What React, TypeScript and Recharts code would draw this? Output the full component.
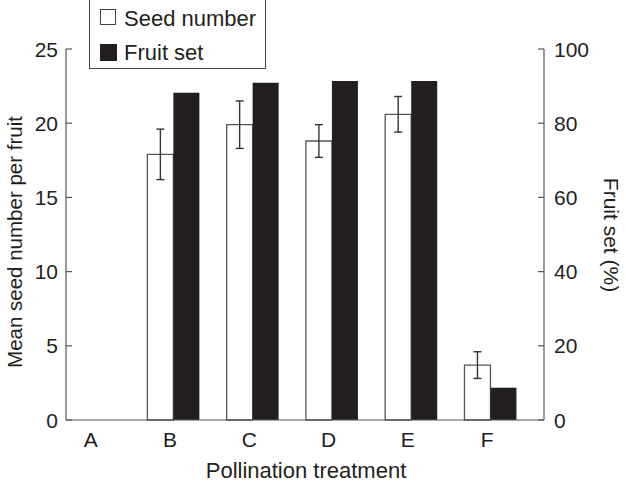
import React from 'react';
import { BarChart, Bar, XAxis, YAxis, ErrorBar } from 'recharts';

const categories = ['A', 'B', 'C', 'D', 'E', 'F'];
const seedNumber = [0, 17.9, 19.9, 18.8, 20.6, 3.7];
const seedError = [null, 1.7, 1.6, 1.1, 1.2, 0.9];
const fruitSet = [0, 88.2, 90.9, 91.4, 91.4, 8.7];
const leftTicks = [0, 5, 10, 15, 20, 25];
const rightTicks = [0, 20, 40, 60, 80, 100];

const data = categories.map((c, i) => ({
  idx: i,
  name: c,
  seed: seedNumber[i],
  seedErr: seedError[i],
  fruit: fruitSet[i],
}));

const FONT = 'Liberation Sans, Arial, Helvetica, sans-serif';
const INK = '#231f20';
const TICK_SIZE = 21;

const LeftTick = (props: any) => {
  const { x, y, payload } = props;
  return (
    <g>
      <line x1={x} y1={y} x2={x + 6} y2={y} stroke="#555" strokeWidth={1.2} />
      <text x={x - 8} y={y} dy={7.5} textAnchor="end" fontSize={TICK_SIZE} fontFamily={FONT} fill={INK}>
        {payload.value}
      </text>
    </g>
  );
};

const RightTick = (props: any) => {
  const { x, y, payload } = props;
  return (
    <g>
      <line x1={x} y1={y} x2={x - 6} y2={y} stroke="#555" strokeWidth={1.2} />
      <text x={x + 10} y={y} dy={7.5} textAnchor="start" fontSize={TICK_SIZE} fontFamily={FONT} fill={INK}>
        {payload.value}
      </text>
    </g>
  );
};

const BottomTick = (props: any) => {
  const { x, y, payload } = props;
  return (
    <text x={x - 3} y={y} dy={19} textAnchor="middle" fontSize={TICK_SIZE} fontFamily={FONT} fill={INK}>
      {categories[payload.value]}
    </text>
  );
};

const LegendBox = () => (
  <div
    style={{
      position: 'absolute',
      left: 89,
      top: -2,
      width: 177,
      height: 71,
      border: '1.5px solid #444',
      background: '#fff',
      boxSizing: 'border-box',
      fontFamily: FONT,
      fontSize: 22,
      color: INK,
    }}
  >
    <span
      style={{ position: 'absolute', left: 10, top: 10, width: 16, height: 16, border: '1.3px solid #444', boxSizing: 'border-box', background: '#fff' }}
    />
    <span style={{ position: 'absolute', left: 34, top: 7, lineHeight: '25px', whiteSpace: 'nowrap' }}>Seed number</span>
    <span style={{ position: 'absolute', left: 10, top: 45, width: 17, height: 17, background: INK }} />
    <span style={{ position: 'absolute', left: 34, top: 41, lineHeight: '25px', whiteSpace: 'nowrap' }}>Fruit set</span>
  </div>
);

export default function App() {
  return (
    <div style={{ position: 'absolute', left: 0, top: 0, width: 626, height: 483, background: '#fff' }}>
      <BarChart
        width={626}
        height={483}
        data={data}
        margin={{ top: 49, right: 0, bottom: 0, left: 0 }}
        barGap={0}
      >
        <XAxis
          dataKey="idx"
          type="number"
          domain={[-0.35, 5.68]}
          ticks={[0, 1, 2, 3, 4, 5]}
          tick={<BottomTick />}
          tickLine={false}
          axisLine={{ stroke: '#555', strokeWidth: 1.2 }}
          height={63}
          allowDataOverflow
          label={() => (
            <text x={306} y={478} textAnchor="middle" fontSize={22} fontFamily={FONT} fill={INK}>
              Pollination treatment
            </text>
          )}
        />
        <YAxis
          yAxisId="left"
          width={66}
          domain={[0, 25]}
          ticks={leftTicks}
          tick={<LeftTick />}
          tickLine={false}
          tickSize={0}
          tickMargin={0}
          axisLine={{ stroke: '#555', strokeWidth: 1.2 }}
          label={() => (
            <text
              transform="translate(14,242) rotate(-90)"
              textAnchor="middle"
              dominantBaseline="central"
              fontSize={20.5}
              fontFamily={FONT}
              fill={INK}
            >
              Mean seed number per fruit
            </text>
          )}
        />
        <YAxis
          yAxisId="right"
          orientation="right"
          width={82}
          domain={[0, 100]}
          ticks={rightTicks}
          tick={<RightTick />}
          tickLine={false}
          tickSize={0}
          tickMargin={0}
          axisLine={{ stroke: '#555', strokeWidth: 1.2 }}
          label={() => (
            <text
              transform="translate(611,235) rotate(90)"
              textAnchor="middle"
              dominantBaseline="central"
              fontSize={21}
              fontFamily={FONT}
              fill={INK}
            >
              Fruit set (%)
            </text>
          )}
        />
        <Bar
          yAxisId="left"
          dataKey="seed"
          name="Seed number"
          fill="#fff"
          stroke="#555"
          strokeWidth={1.3}
          barSize={26}
          isAnimationActive={false}
        >
          <ErrorBar dataKey="seedErr" width={4} stroke="#333" strokeWidth={1.4} direction="y" />
        </Bar>
        <Bar
          yAxisId="right"
          dataKey="fruit"
          name="Fruit set"
          fill={INK}
          barSize={26}
          isAnimationActive={false}
        />
      </BarChart>
      <LegendBox />
    </div>
  );
}
